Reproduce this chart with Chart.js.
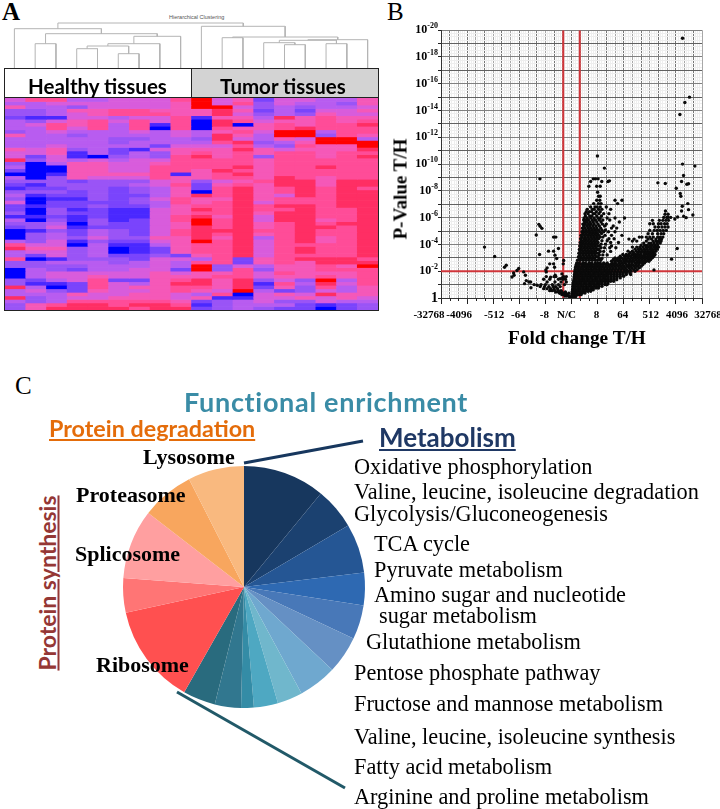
<!DOCTYPE html>
<html>
<head>
<meta charset="utf-8">
<title>Tumor vs healthy tissues</title>
<script src="https://cdn.jsdelivr.net/npm/chart.js@4"></script>
<style>
  html, body { margin: 0; padding: 0; background: #fff; }
  #page { position: relative; width: 720px; height: 809px; overflow: hidden; }
  canvas { position: absolute; }
  .t { position: absolute; white-space: nowrap; line-height: 1; color: #000; font-family: "Liberation Serif", serif; }
  .path { font-size: 22.3px; }
  .lab { font-size: 22px; font-weight: bold; }
  .head { font-family: Lato, sans-serif; font-weight: bold; text-decoration: underline; text-decoration-thickness: 1.5px; text-underline-offset: 2px; }
  .box { position: absolute; box-sizing: border-box; border: 1.5px solid #222; }
</style>
</head>
<body>
<div id="page">
  <div class="t" style="left:2px;top:-1px;font-size:25px;font-weight:bold;">A</div>
  <div class="t" style="left:387px;top:-1px;font-size:25px;">B</div>
  <div class="t" style="left:15px;top:373px;font-size:25px;">C</div>

  <div class="t" style="left:169px;top:14px;font:5.5px 'Liberation Sans';color:#555;">Hierarchical Clustering</div>
  <canvas id="dendro" width="374" height="46" style="left:4px;top:22px;"></canvas>
  <div class="box" style="left:4px;top:68px;width:188px;height:31px;background:#fff;"></div>
  <div class="box" style="left:191px;top:68px;width:188px;height:31px;background:#d3d3d3;"></div>
  <div class="t" style="left:28px;top:74px;font:bold 20.5px Lato;z-index:2;">Healthy tissues</div>
  <div class="t" style="left:220px;top:74px;font:bold 20.5px Lato;z-index:2;">Tumor tissues</div>
  <canvas id="heat" width="373" height="212" style="left:5px;top:98px;filter:blur(0.5px);"></canvas>
  <div class="box" style="left:4px;top:97px;width:375px;height:214px;"></div>

  <canvas id="volcano" width="315" height="310" style="left:405px;top:20px;"></canvas>
  <div class="t" style="left:400px;top:189px;font-size:19px;font-weight:bold;transform:translate(-50%,-50%) rotate(-90deg);">P-Value T/H</div>
  <div class="t" style="left:508px;top:328px;font-size:19.3px;font-weight:bold;">Fold change T/H</div>

  <canvas id="pie" width="270" height="440" style="left:109px;top:367px;"></canvas>
  <div class="t" style="left:184px;top:385px;font:bold 27px Lato;letter-spacing:0.7px;color:#3a8ca6;">Functional enrichment</div>
  <div class="t head" style="left:49px;top:417px;font-size:23.3px;color:#e46c0a;">Protein degradation</div>
  <div class="t head" style="left:47px;top:583px;font-size:23px;color:#953735;transform:translate(-50%,-50%) rotate(-90deg);">Protein synthesis</div>
  <div class="t head" style="left:379px;top:424px;font-size:26px;color:#1f3864;">Metabolism</div>

  <div class="t lab" style="left:143px;top:446px;">Lysosome</div>
  <div class="t lab" style="left:76px;top:484px;">Proteasome</div>
  <div class="t lab" style="left:75px;top:543px;">Splicosome</div>
  <div class="t lab" style="left:96px;top:654px;">Ribosome</div>

  <div class="t path" style="left:354px;top:456px;">Oxidative phosphorylation</div>
  <div class="t path" style="left:354px;top:481px;">Valine, leucine, isoleucine degradation</div>
  <div class="t path" style="left:354px;top:503px;">Glycolysis/Gluconeogenesis</div>
  <div class="t path" style="left:374px;top:533px;">TCA cycle</div>
  <div class="t path" style="left:374px;top:559px;">Pyruvate metabolism</div>
  <div class="t path" style="left:374px;top:584px;">Amino sugar and nucleotide</div>
  <div class="t path" style="left:379px;top:605px;">sugar metabolism</div>
  <div class="t path" style="left:366px;top:631px;">Glutathione metabolism</div>
  <div class="t path" style="left:354px;top:662px;">Pentose phosphate pathway</div>
  <div class="t path" style="left:354px;top:693px;">Fructose and mannose metabolism</div>
  <div class="t path" style="left:354px;top:726px;">Valine, leucine, isoleucine synthesis</div>
  <div class="t path" style="left:354px;top:756px;">Fatty acid metabolism</div>
  <div class="t path" style="left:354px;top:786px;">Arginine and proline metabolism</div>
</div>

<script>
// Panel A - one string per protein row, one digit per tissue sample (0 = low, 9 = high)
const heatRows = [
  "577445557956255446", "445555556957354436", "644355556995343445", "334667766686242556",
  "334567776685343655", "211554557166486766", "435675757087566767", "457674717080676778",
  "447574707076678777", "345444545467599477", "644344445486499376", "444443344385465994",
  "444443444478346999", "445444425557437669", "656342156668656668", "556142436767677677",
  "525103437867377678", "835454557777677777", "304665567777677777", "400665577778677877",
  "200665577687677777", "001666671678677777", "403655576677687677", "333233356356788688",
  "213333457267688688", "122332346278678787", "333232346078678788", "412232246878658788",
  "301132357668677788", "502222347678577788", "212232246778788788", "203121156878778778",
  "303221156778688778", "112121157868588778", "403131257978588678", "334032256978678788",
  "235122256878678878", "013243257888778778", "034243257878678778", "034353366868478678",
  "435132256978578678", "755041146778577778", "866340126778578778", "455340126778578778",
  "425342232678577778", "701333255472678887", "334443454772676888", "333344454935466769",
  "043244552937366777", "045555565667576667", "045565566677566767", "324572267868353947",
  "311275468868174857", "840275667768263746", "453265567659423546", "444655665470565866",
  "834556665611556565", "434777776234533544", "367887887134442123", "368888788234322023"
];
const heatColors = ["#0000ff", "#4a28ff", "#7a44fc", "#9a54f6", "#b85cf0", "#d85cdc", "#f558b8", "#ff4c98", "#ff2e64", "#ff0000"];

// Dendrogram merges: [left node, right node, height]. Leaves are 0-17, each merge adds a new node from 18 up
const dendroMerges = [
  [1, 2, 24.3], [3, 4, 19.3], [5, 6, 14.3], [19, 20, 22], [21, 7, 24.3], [22, 8, 31.7],
  [18, 23, 34.3], [0, 24, 39.3], [13, 14, 23.3], [12, 26, 25.3], [15, 16, 24.3], [27, 28, 27.7],
  [29, 17, 28.3], [10, 11, 30.3], [31, 30, 31], [9, 32, 41.7], [25, 33, 45]
];

// Panel B - x is log2 fold change, y is -log10 p
const xTickLabels = ["-32768", "-4096", "-512", "-64", "-8", "N/C", "8", "64", "512", "4096", "32768"];
const xLabelNudge = [-12, -8, 1, -1, -1, -5, -1, -1, 1, 1, 6];
const yTickExponents = ["", "-2", "-4", "-6", "-8", "-10", "-12", "-14", "-16", "-18", "-20"];
const foldCutoff = 0.95;
const pCutoff = 2;
const volcanoPoints = [
  [12.76,19.4],[13.56,15],[13.03,14.6],[12.46,13.7],[2.98,10.6],[3.78,9.7],[12.76,10],[14.18,9.85],
  [12.88,9.15],[-3.63,8.9],[12.65,8.7],[4.36,8.75],[9.93,8.6],[10.78,8.55],[13.26,8.5],[13.45,8.53],
  [12.04,8.2],[12.5,7.8],[12.57,7.6],[13.37,7.05],[12.73,6.85],[13.45,6.6],[12.65,6.5],[13.95,6.2],
  [13.18,6],[12.2,6.05],[11.88,5.9],[12.9,6.1],[12.15,3.7],[11.5,2.9],[9.48,2.1],
  [-10,3.8],[-8.83,3.1],[-7.7,2.3],[-7.5,2.45],[-3.75,5.5],[-3.6,5.35],[-3.4,5.2],[-4.05,4.7],[-3.67,3.25],
  [-2.06,4.55],[-1.8,4.55],[-2.64,3.5],[-2.06,3.5],[-1.5,3.7],[-1.9,3.2],[-1.7,2.95],[-2.06,2.55],
  [-0.9,2.8],[-0.95,2.55],[-2.5,2.55],[-2.8,2.25],[-2.9,1.95],[-2.95,2.1],[-1.95,2.3],[-1.1,1.8],
  [-1,1.55],[-1.87,1.7],[-2.4,1.55],[-1.3,1.45],[-6.07,2.2],[-6.27,2.05],[-6.65,1.87],[-6.6,1.7],
  [-6.84,1.57],[-5.5,1.95],[-5.3,1.7],[-5.2,1.3],[-5.4,1.07],[-4.9,1.2],[-4.66,0.77],[-3.95,0.95]
];
// Dense clouds, read row by row: [y, x, x, x ...]
const volcanoRows = [
  [8.9, 2.5, 2.75, 3.05],
  [8.7, 2.2, 3.48, 4.2],
  [8.35, 2, 2.9, 3.3],
  [7.9, 3],
  [7.6, 3.1, 3.3],
  [7.3, 2.9, 3.25, 5, 5.8],
  [7.05, 2.55, 3.1, 3.4, 5.3],
  [6.8, 2.2, 2.7, 2.95, 3.3, 4],
  [6.62, 1.8, 2.4, 2.6, 3.1, 3.5, 4.5],
  [6.45, 1.7, 2.05, 2.3, 2.85, 3.3],
  [6.3, 1.55, 1.9, 2.5, 2.7, 3.15, 3.7, 4.3],
  [6.12, 1.6, 2.1, 2.35, 2.9, 3.45],
  [5.98, 1.45, 1.8, 2.2, 2.6, 3.05, 3.3, 4.1, 5, 6.1],
  [5.82, 1.4, 1.65, 1.95, 2.4, 2.75, 3.2, 3.6, 4.4],
  [5.68, 1.5, 1.8, 2.15, 2.5, 2.9, 3.4, 5.5],
  [5.52, 1.3, 1.6, 1.95, 2.25, 2.6, 3.05, 3.55, 4],
  [5.38, 1.4, 1.75, 2.1, 2.45, 2.8, 3.2, 3.8, 4.8],
  [5.22, 1.25, 1.55, 1.9, 2.2, 2.55, 2.9, 3.35, 4.6, 5.2],
  [5.08, 1.35, 1.7, 2.05, 2.4, 2.75, 3.1, 3.5, 3.9],
  [4.95, 1.2, 1.5, 1.85, 2.15, 2.5, 2.85, 3.25, 3.7, 4.25, 5],
  [4.82, 1.3, 1.65, 2, 2.3, 2.65, 3, 3.45],
  [4.68, 1.1, 1.45, 1.8, 2.1, 2.45, 2.8, 3.15, 3.85, 4.6, 5.8],
  [4.55, 1.2, 1.55, 1.9, 2.25, 2.6, 2.95, 3.3, 3.6],
  [4.42, 1.05, 1.4, 1.7, 2.05, 2.4, 2.75, 3.1, 4.3, 4.9],
  [4.28, 1.15, 1.5, 1.85, 2.2, 2.55, 2.9, 3.5, 4.1],
  [4.15, 1, 1.3, 1.65, 2, 2.35, 2.7, 3.05, 4.5, 5.4],
  [4.02, 1.1, 1.45, 1.8, 2.15, 2.5, 2.85, 3.4, 3.9],
  [3.88, 0.95, 1.25, 1.6, 1.95, 2.3, 2.65, 3, 3.2, 4.6],
  [3.75, 1.05, 1.4, 1.75, 2.1, 2.45, 2.8, 3.4, 3.8, 4.4, 5.1],
  [3.62, 0.9, 1.2, 1.55, 1.9, 2.25, 2.6, 2.95, 3.15],
  [3.48, 1, 1.35, 1.7, 2.05, 2.4, 2.75, 3.3, 3.7, 4.5],
  [3.35, 0.85, 1.15, 1.5, 1.85, 2.2, 2.55, 2.9, 3.1],
  [3.22, 0.95, 1.3, 1.65, 2, 2.35, 2.7, 3.2, 3.6, 4.1],
  [3.08, 0.8, 1.1, 1.45, 1.8, 2.15, 2.5, 2.85, 3.05],
  [2.95, 0.9, 1.25, 1.6, 1.95, 2.3, 2.65, 3.2, 3.5],
  [2.82, 0.7, 1, 1.35, 1.7, 2.05, 2.4, 2.75, 3, 3.35],

  [6.5, 10.8],
  [6.25, 10.75, 11.1],
  [6.02, 10.6, 10.95, 11.1, 11.4],
  [5.8, 9.3, 10.1, 10.5, 10.85, 11.15],
  [5.55, 9, 9.4, 10, 10.3, 10.7, 11],
  [5.3, 9.6, 10, 10.4, 10.75, 11.1],
  [5.05, 9, 9.5, 9.85, 10.2, 10.55, 10.9],
  [4.8, 8.8, 9.3, 9.9, 10.3, 10.6],
  [4.55, 7.8, 8.1, 8.6, 9, 9.4, 9.9, 10.2, 10.5],
  [4.4, 6.6, 7.2, 8.8, 9.2, 9.7, 10.1, 10.35],
  [4.25, 7, 7.5, 8.6, 9.4, 9.75, 10, 10.3],
  [4.1, 8.3, 8.9, 9.15, 9.5, 9.85, 10.2],
  [3.95, 8, 8.4, 8.7, 9, 9.3, 9.6, 9.9],
  [3.8, 7, 7.5, 7.85, 8.2, 8.55, 8.85, 9.15, 9.45, 9.75, 10],
  [3.65, 7.3, 7.7, 8, 8.35, 8.65, 9, 9.3, 9.6, 9.85],
  [3.5, 6.5, 7, 7.45, 7.8, 8.15, 8.45, 8.75, 9.1, 9.4, 9.7],
  [3.38, 6.75, 7.15, 7.6, 7.95, 8.3, 8.6, 8.9, 9.2, 9.5],
  [3.25, 5.9, 6.3, 6.6, 7, 7.35, 7.7, 8, 8.4, 8.75, 9.05, 9.35, 9.6],
  [3.12, 5.6, 6.1, 6.45, 6.8, 7.2, 7.5, 7.85, 8.2, 8.5, 8.85, 9.15, 9.45],
  [3, 5, 5.4, 5.75, 6.15, 6.5, 6.9, 7.25, 7.6, 7.95, 8.3, 8.65, 9, 9.3],
  [2.87, 4.8, 5.2, 5.55, 5.95, 6.3, 6.7, 7.05, 7.4, 7.75, 8.1, 8.45, 8.8, 9.1],
  [2.75, 4.6, 5, 5.35, 5.7, 6.1, 6.45, 6.8, 7.15, 7.55, 7.9, 8.25, 8.6, 8.9],
  [2.62, 0.6, 0.9, 1.3, 1.6, 2, 2.3, 2.7, 3, 3.3, 3.7, 4.1, 4.7, 5.05, 5.5, 5.85, 6.2, 6.6, 6.95, 7.35, 7.7, 8.05, 8.4],
  [2.5, 0.55, 0.85, 1.15, 1.45, 1.75, 2.05, 2.35, 2.65, 2.95, 3.25, 3.55, 3.9, 4.2, 4.5, 4.85, 5.2, 5.55, 5.9, 6.3, 6.65, 7, 7.4, 7.75, 8.2],
  [2.37, 0.5, 0.8, 1.2, 1.5, 1.8, 2.1, 2.4, 2.7, 3, 3.3, 3.6, 3.95, 4.3, 4.65, 5, 5.35, 5.7, 6.05, 6.45, 6.8, 7.2, 7.6, 8],
  [2.25, 0.45, 0.75, 1.05, 1.35, 1.65, 1.95, 2.25, 2.55, 2.85, 3.15, 3.45, 3.75, 4.05, 4.4, 4.75, 5.1, 5.5, 5.85, 6.2, 6.6, 6.95, 7.35, 7.8],
  [2.12, 0.42, 0.7, 1, 1.3, 1.6, 1.9, 2.2, 2.5, 2.8, 3.1, 3.4, 3.7, 4, 4.3, 4.6, 4.95, 5.3, 5.65, 6, 6.35, 6.75, 7.15, 7.55],
  [2, 0.4, 0.72, 1.02, 1.32, 1.62, 1.92, 2.22, 2.52, 2.82, 3.12, 3.42, 3.72, 4.02, 4.32, 4.65, 5, 5.35, 5.7, 6.1, 6.45, 6.85, 7.3],
  [1.87, 0.38, 0.65, 0.95, 1.25, 1.55, 1.85, 2.15, 2.45, 2.75, 3.05, 3.35, 3.65, 3.95, 4.25, 4.55, 4.9, 5.25, 5.6, 5.95, 6.3, 6.7],
  [1.75, 0.35, 0.62, 0.92, 1.22, 1.52, 1.82, 2.12, 2.42, 2.72, 3.02, 3.32, 3.62, 3.92, 4.22, 4.52, 4.85, 5.2, 5.55, 5.9, 6.3, 6.8],
  [1.62, 0.33, 0.6, 0.9, 1.2, 1.5, 1.8, 2.1, 2.4, 2.7, 3, 3.3, 3.6, 3.9, 4.2, 4.55, 4.9, 5.25, 5.6, 6],
  [1.5, 0.3, 0.58, 0.88, 1.18, 1.48, 1.78, 2.08, 2.38, 2.68, 2.98, 3.28, 3.58, 3.88, 4.18, 4.5, 4.85, 5.2, 5.6],
  [1.37, 0.28, 0.55, 0.85, 1.15, 1.45, 1.75, 2.05, 2.35, 2.65, 2.95, 3.25, 3.55, 3.85, 4.15, 4.5, 4.85, 5.2],
  [1.25, 0.25, 0.52, 0.82, 1.12, 1.42, 1.72, 2.02, 2.32, 2.62, 2.92, 3.22, 3.52, 3.82, 4.15, 4.5, 4.85],
  [1.12, 0.22, 0.5, 0.8, 1.1, 1.4, 1.7, 2, 2.3, 2.6, 2.9, 3.2, 3.5, 3.85, 4.2],
  [1, 0.2, 0.48, 0.78, 1.08, 1.38, 1.68, 1.98, 2.28, 2.58, 2.88, 3.18, 3.5, 3.85, 4.1],
  [0.87, 0.18, 0.45, 0.75, 1.05, 1.35, 1.65, 1.95, 2.25, 2.55, 2.85, 3.15, 3.5],
  [0.75, 0.15, 0.42, 0.72, 1.02, 1.32, 1.62, 1.92, 2.22, 2.52, 2.82, 3.1],
  [0.62, 0.12, 0.4, 0.7, 1, 1.3, 1.6, 1.9, 2.2, 2.5],
  [0.5, 0.1, 0.38, 0.68, 0.98, 1.28, 1.58, 1.88, 2.2],
  [0.37, 0.08, 0.35, 0.65, 0.95, 1.25, 1.55],
  [0.25, 0.05, 0.3, 0.6, 0.9, 1.1],
  [0.12, 0, 0.25, 0.5],
  [0.05, -0.2, 0, 0.2],
  [0.15, -0.3, -0.55, -0.75],
  [0.25, -0.5, -0.8, -1.1],
  [0.35, -0.3, -0.65, -1, -1.35],
  [0.45, -0.7, -1.1, -1.5, -1.8],
  [0.55, -1.2, -1.5, -1.9, -2.2, -2.5],
  [0.7, -1.6, -2, -2.4, -2.8, -3.2],
  [0.85, -1.3, -1.8, -2.1, -2.6, -3.1, -3.6],
  [1, -0.8, -1.5, -2.2, -3, -3.5, -4.3],
  [1.2, -0.6, -1.2, -1.9, -2.8, -4.7],
  [1.4, -0.7, -1, -1.5, -2.5, -3.2],
  [1.6, -0.6, -0.9, -1.8, -2, -2.9]
];

// Panel C - slice sizes read as degrees, clockwise from 12 o'clock
const pieLabels = [
  "Oxidative phosphorylation", "Valine, leucine, isoleucine degradation", "Glycolysis/Gluconeogenesis",
  "TCA cycle", "Pyruvate metabolism", "Amino sugar and nucleotide sugar metabolism", "Glutathione metabolism",
  "Pentose phosphate pathway", "Fructose and mannose metabolism", "Valine, leucine, isoleucine synthesis",
  "Fatty acid metabolism", "Arginine and proline metabolism", "Ribosome", "Protein synthesis", "Splicosome",
  "Proteasome", "Lysosome"
];
const pieValues = [39.4, 20, 23.7, 15.7, 16.4, 18, 18.4, 12.1, 11.6, 6.1, 12.6, 15.6, 48.1, 16.6, 33.4, 25.3, 27];
const pieColors = [
  "#17375e", "#1b4170", "#255694", "#2e69b2", "#4878b8", "#6590c4", "#6fa8cf", "#70b7cc", "#4ea8c2",
  "#348ca6", "#31778f", "#296b7e", "#ff5050", "#ff7575", "#ff9fa0", "#f8a65e", "#f9b97f"
];

Chart.defaults.animation = false;
Chart.defaults.responsive = false;
Chart.defaults.devicePixelRatio = 1;
Chart.defaults.plugins.legend.display = false;
Chart.defaults.plugins.tooltip.enabled = false;

// Dendrogram
const dendroNodes = [];
for (let i = 0; i < 18; i++) dendroNodes.push({ x: i, h: 0 });
const dendroSets = dendroMerges.map(m => {
  const a = dendroNodes[m[0]], b = dendroNodes[m[1]];
  dendroNodes.push({ x: (a.x + b.x) / 2, h: m[2] });
  return {
    data: [{ x: a.x, y: a.h }, { x: a.x, y: m[2] }, { x: b.x, y: m[2] }, { x: b.x, y: b.h }],
    showLine: true, borderColor: '#b4b4b4', borderWidth: 1, pointRadius: 0, tension: 0
  };
});
new Chart(document.getElementById('dendro'), {
  type: 'scatter',
  data: { datasets: dendroSets },
  options: {
    layout: { padding: 0 },
    scales: {
      x: { display: false, min: -0.5, max: 17.5 },
      y: { display: false, min: 0, max: 46 }
    }
  }
});

// Heatmap, stacked bars: each protein row is one dataset
const sampleLabels = heatRows[0].split('').map((c, i) => 'S' + (i + 1));
new Chart(document.getElementById('heat'), {
  type: 'bar',
  data: {
    labels: sampleLabels,
    datasets: heatRows.map(row => ({
      data: row.split('').map(() => 1),
      backgroundColor: row.split('').map(d => heatColors[Number(d)]),
      borderWidth: 0, barPercentage: 1, categoryPercentage: 1
    }))
  },
  options: {
    layout: { padding: 0 },
    scales: {
      x: { display: false, stacked: true },
      y: { display: false, stacked: true, reverse: true, min: 0, max: heatRows.length }
    }
  }
});

// Volcano plot
const volcanoData = volcanoPoints.map(p => ({ x: p[0], y: p[1] }));
volcanoRows.forEach(r => r.slice(1).forEach(x => volcanoData.push({ x: x, y: r[0] })));

// Tick labels are nudged off their ticks as in the original, and the y ones need real superscripts
const axisLabels = {
  id: 'axisLabels',
  afterDraw(chart) {
    const { ctx, scales: { x, y } } = chart;
    ctx.save();
    ctx.strokeStyle = '#222';
    ctx.fillStyle = '#000';
    ctx.lineWidth = 1;
    for (let v = -15; v <= 15; v++) {
      if (v % 3 === 0) continue;
      const px = Math.round(x.getPixelForValue(v)) + 0.5;
      ctx.beginPath();
      ctx.moveTo(px, y.bottom);
      ctx.lineTo(px, y.bottom + 3);
      ctx.stroke();
    }
    ctx.font = 'bold 11px "Liberation Serif"';
    ctx.textAlign = 'center';
    ctx.textBaseline = 'middle';
    xTickLabels.forEach((label, i) => {
      ctx.fillText(label, x.getPixelForValue(-15 + i * 3) + xLabelNudge[i], y.bottom + 17);
    });
    ctx.textAlign = 'right';
    yTickExponents.forEach((exp, i) => {
      const py = y.getPixelForValue(i * 2);
      const right = x.left - 3;
      if (!exp) {
        ctx.font = 'bold 14px "Liberation Serif"';
        ctx.fillText('1', right, py);
        return;
      }
      ctx.font = 'bold 8px "Liberation Serif"';
      const w = ctx.measureText(exp).width;
      ctx.fillText(exp, right, py - 4);
      ctx.font = 'bold 12px "Liberation Serif"';
      ctx.fillText('10', right - w, py);
    });
    ctx.restore();
  }
};

new Chart(document.getElementById('volcano'), {
  type: 'scatter',
  data: {
    datasets: [
      { data: volcanoData, backgroundColor: '#0a0a0a', borderWidth: 0, pointRadius: 1.7 },
      { data: [{ x: -foldCutoff, y: 0 }, { x: -foldCutoff, y: 20 }], showLine: true, borderColor: '#d0353a', borderWidth: 2, pointRadius: 0 },
      { data: [{ x: foldCutoff, y: 0 }, { x: foldCutoff, y: 20 }], showLine: true, borderColor: '#d0353a', borderWidth: 2, pointRadius: 0 },
      { data: [{ x: -15, y: pCutoff }, { x: 15, y: pCutoff }], showLine: true, borderColor: '#d0353a', borderWidth: 2, pointRadius: 0 }
    ]
  },
  options: {
    layout: { padding: { top: 9, right: 18, left: 0, bottom: 0 } },
    scales: {
      x: {
        type: 'linear', min: -15, max: 15,
        afterFit: s => { s.height = 32; },
        border: { color: '#333' },
        grid: {
          tickLength: 6,
          color: c => Number.isInteger(c.tick.value) ? (c.tick.value % 2 === 0 ? '#777777' : '#a8a8a8') : '#eeeeee',
          tickColor: c => c.tick.value % 3 === 0 ? '#222' : 'rgba(0,0,0,0)'
        },
        ticks: { stepSize: 0.25, autoSkip: false, maxRotation: 0, callback: () => '' }
      },
      y: {
        type: 'linear', min: 0, max: 20,
        afterFit: s => { s.width = 36; },
        border: { color: '#333' },
        grid: {
          tickLength: 3,
          color: c => Number.isInteger(c.tick.value) ? (c.tick.value % 2 === 0 ? '#808080' : '#606060') : '#eeeeee',
          tickColor: c => Number.isInteger(c.tick.value) ? '#222' : 'rgba(0,0,0,0)'
        },
        ticks: { stepSize: 0.25, autoSkip: false, callback: () => '' }
      }
    }
  },
  plugins: [axisLabels]
});

// Pie with the two leader lines running out to the pathway list
const leaderLines = {
  id: 'leaderLines',
  afterDatasetsDraw(chart) {
    const ctx = chart.ctx;
    const arc = chart.getDatasetMeta(0).data[0];
    const cx = arc.x, cy = arc.y;
    ctx.save();
    ctx.lineWidth = 3;
    ctx.strokeStyle = '#17375e';
    ctx.beginPath();
    ctx.moveTo(cx, cy - 124);
    ctx.lineTo(cx + 119, cy - 146);
    ctx.stroke();
    ctx.strokeStyle = '#215968';
    ctx.beginPath();
    ctx.moveTo(cx - 67, cy + 105);
    ctx.lineTo(cx + 101, cy + 201);
    ctx.stroke();
    ctx.restore();
  }
};
new Chart(document.getElementById('pie'), {
  type: 'pie',
  data: {
    labels: pieLabels,
    datasets: [{ data: pieValues, backgroundColor: pieColors, borderWidth: 0, radius: 121 }]
  },
  options: { layout: { padding: 0 } },
  plugins: [leaderLines]
});
</script>
</body>
</html>
